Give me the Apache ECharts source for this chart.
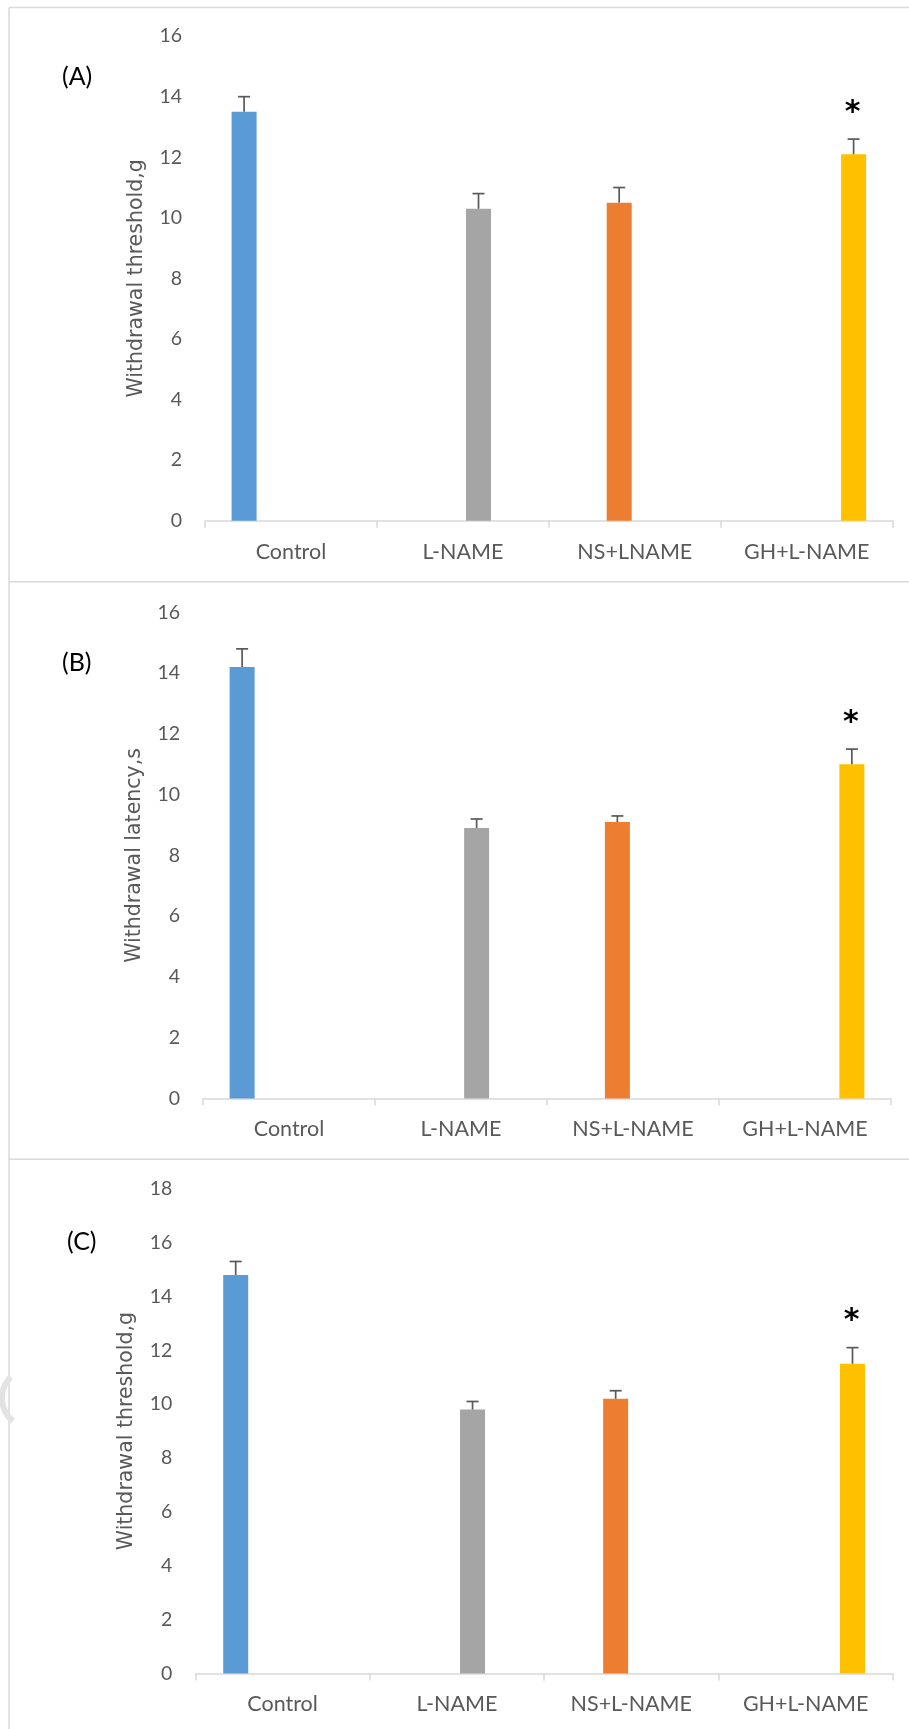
<!DOCTYPE html>
<html><head><meta charset="utf-8">
<script src="https://cdn.jsdelivr.net/npm/echarts@6/dist/echarts.min.js"></script>
<style>html,body{margin:0;padding:0;background:#fff}#c{width:909px;height:1729px}</style>
</head><body><div id="c"></div>
<script>
// ---- data ----
const categoriesA = ['Control', 'L-NAME', 'NS+LNAME', 'GH+L-NAME'];
const categoriesB = ['Control', 'L-NAME', 'NS+L-NAME', 'GH+L-NAME'];
const categoriesC = ['Control', 'L-NAME', 'NS+L-NAME', 'GH+L-NAME'];
const valuesA = [13.5, 10.3, 10.5, 12.1];
const errorsA = [0.5, 0.5, 0.5, 0.5];
const valuesB = [14.2, 8.9, 9.1, 11.0];
const errorsB = [0.6, 0.3, 0.2, 0.5];
const valuesC = [14.8, 9.8, 10.2, 11.5];
const errorsC = [0.5, 0.3, 0.3, 0.6];
const signifA = ['', '', '', '*'];
const signifB = ['', '', '', '*'];
const signifC = ['', '', '', '*'];
const yTicksA = [0, 2, 4, 6, 8, 10, 12, 14, 16];
const yTicksB = [0, 2, 4, 6, 8, 10, 12, 14, 16];
const yTicksC = [0, 2, 4, 6, 8, 10, 12, 14, 16, 18];
const yTitles = ['Withdrawal threshold,g', 'Withdrawal latency,s', 'Withdrawal threshold,g'];
const panelLabels = ['(A)', '(B)', '(C)'];
// series slot (clustered position) used by each category's bar
const slotOfCategory = [0, 2, 1, 3];

// ---- styles / layout ----
const slotColors = ['#5B9BD5', '#ED7D31', '#A5A5A5', '#FFC000'];
const BAR_W = 25, GAP = 0.25;
const grids = [
  {left: 205, top: 36.1, width: 687.7, height: 484.6},
  {left: 203, top: 612.4, width: 688, height: 486.1},
  {left: 195.4, top: 1188.8, width: 697.4, height: 484.6}
];
const labelPos = [[62, 64], [62, 650], [67, 1229]];
const panels = [
  {cats: categoriesA, vals: valuesA, errs: errorsA, sig: signifA, ticks: yTicksA},
  {cats: categoriesB, vals: valuesB, errs: errorsB, sig: signifB, ticks: yTicksB},
  {cats: categoriesC, vals: valuesC, errs: errorsC, sig: signifC, ticks: yTicksC}
];
const AXIS_GRAY = '#d9d9d9', TEXT_GRAY = '#595959';

const xAxis = [], yAxis = [], series = [];
panels.forEach((p, g) => {
  xAxis.push({
    type: 'category', gridIndex: g, data: p.cats,
    axisLine: {lineStyle: {color: AXIS_GRAY, width: 1.5}},
    axisTick: {show: true, length: 7, lineStyle: {color: AXIS_GRAY, width: 1.5}},
    axisLabel: {color: TEXT_GRAY, fontFamily: 'Lato', fontSize: 21.5, margin: 20},
    splitLine: {show: false}
  });
  const t = p.ticks;
  yAxis.push({
    type: 'value', gridIndex: g, min: t[0], max: t[t.length - 1], interval: t[1] - t[0],
    axisLine: {show: false}, axisTick: {show: false}, splitLine: {show: false},
    axisLabel: {color: TEXT_GRAY, fontFamily: 'Lato', fontSize: 19.5, margin: 23},
    name: yTitles[g], nameLocation: 'middle', nameGap: 58,
    nameTextStyle: {color: TEXT_GRAY, fontFamily: 'DejaVu Sans', fontSize: 20.5}
  });
  for (let s = 0; s < 4; s++) {
    series.push({
      type: 'bar', xAxisIndex: g, yAxisIndex: g,
      barWidth: BAR_W, barGap: (GAP * 100) + '%',
      itemStyle: {color: slotColors[s]},
      data: p.vals.map((v, i) => slotOfCategory[i] === s ? v : '-'),
      silent: true
    });
  }
  series.push({
    type: 'custom', xAxisIndex: g, yAxisIndex: g, z: 5, silent: true,
    data: p.vals.map((v, i) => [i, v, p.errs[i]]),
    renderItem: (params, api) => {
      const i = api.value(0), v = api.value(1), e = api.value(2);
      const base = api.coord([i, v]);
      const top = api.coord([i, v + e]);
      const x = base[0] + (slotOfCategory[i] - 1.5) * BAR_W * (1 + GAP);
      const st = {stroke: '#595959', lineWidth: 1.7};
      const children = [
        {type: 'line', shape: {x1: x, y1: base[1], x2: x, y2: top[1]}, style: st},
        {type: 'line', shape: {x1: x - 6, y1: top[1], x2: x + 6, y2: top[1]}, style: st}
      ];
      const s = p.sig[i];
      if (s) children.push({type: 'text', x: x - 1, y: top[1] - 26,
        style: {text: s, fill: '#000', font: 'bold 30px "DejaVu Sans"', align: 'center', verticalAlign: 'middle'}});
      return {type: 'group', children};
    }
  });
});

const lineStyle = {stroke: AXIS_GRAY, lineWidth: 1.5};
const graphic = [
  {type: 'line', shape: {x1: 9, y1: 7.5, x2: 909, y2: 7.5}, style: lineStyle},
  {type: 'line', shape: {x1: 9, y1: 7.5, x2: 9, y2: 1729}, style: lineStyle},
  {type: 'line', shape: {x1: 9, y1: 581.7, x2: 909, y2: 581.7}, style: lineStyle},
  {type: 'line', shape: {x1: 9, y1: 1159.3, x2: 909, y2: 1159.3}, style: lineStyle},
  {type: 'arc', shape: {cx: 32, cy: 1398, r: 30, startAngle: Math.PI * 0.72, endAngle: Math.PI * 1.25},
   style: {stroke: '#e3e3e3', lineWidth: 6, fill: null}}
];
panelLabels.forEach((t, g) => graphic.push({
  type: 'text', x: labelPos[g][0], y: labelPos[g][1],
  style: {text: t, fill: '#000', font: '25px Lato', align: 'left', verticalAlign: 'top'}
}));

const chart = echarts.init(document.getElementById('c'), null, {renderer: 'canvas'});
chart.setOption({
  animation: false,
  backgroundColor: '#fff',
  grid: grids,
  xAxis, yAxis, series, graphic
});
</script></body></html>
